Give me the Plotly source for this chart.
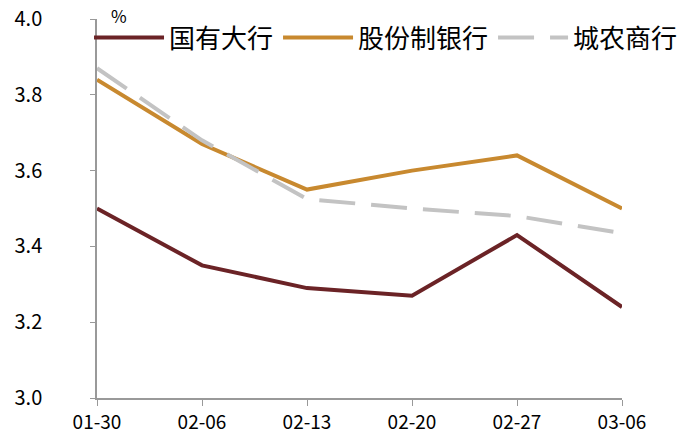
import plotly.graph_objects as go

dates = ["01-30", "02-06", "02-13", "02-20", "02-27", "03-06"]
state_banks = [3.50, 3.35, 3.29, 3.27, 3.43, 3.24]
joint_stock = [3.84, 3.67, 3.55, 3.60, 3.64, 3.50]
city_rural = [3.87, 3.68, 3.525, 3.50, 3.48, 3.435]
names = ["国有大行", "股份制银行", "城农商行"]
y_ticks = [3.0, 3.2, 3.4, 3.6, 3.8, 4.0]

FONT = "Noto Sans CJK SC, SimHei, sans-serif"
xs = list(range(len(dates)))

fig = go.Figure()
fig.add_trace(go.Scatter(x=xs, y=state_banks, name=names[0], mode="lines",
                         line=dict(color="#6B2326", width=4)))
fig.add_trace(go.Scatter(x=xs, y=joint_stock, name=names[1], mode="lines",
                         line=dict(color="#C8892F", width=4)))
fig.add_trace(go.Scatter(x=xs, y=city_rural, name=names[2], mode="lines",
                         line=dict(color="#C3C3C3", width=4, dash="36px,16px")))

fig.update_layout(
    width=700, height=440,
    margin=dict(l=97, r=78, t=19, b=42, autoexpand=False),
    paper_bgcolor="white", plot_bgcolor="white",
    font=dict(family=FONT, color="#000000", size=18),
    showlegend=True,
    legend=dict(orientation="h", x=-0.0152, y=1.013, xanchor="left", yanchor="top",
                font=dict(size=26, family=FONT), bgcolor="rgba(0,0,0,0)",
                borderwidth=0, traceorder="normal", itemwidth=70,
                tracegroupgap=0),
    xaxis=dict(range=[0, 5], tickmode="array", tickvals=xs, ticktext=dates,
               showline=True, linecolor="#999999", linewidth=1.5,
               ticks="outside", ticklen=6, tickcolor="#999999",
               showgrid=False, zeroline=False,
               tickfont=dict(size=19, family=FONT)),
    yaxis=dict(range=[3.0, 4.0], tickmode="array", tickvals=y_ticks,
               ticktext=[f"{v:.1f}" for v in y_ticks],
               showline=True, linecolor="#999999", linewidth=1.5,
               ticks="outside", ticklen=5, tickcolor="#999999",
               showgrid=False, zeroline=False, ticklabelstandoff=44,
               tickfont=dict(size=20, family=FONT)),
    annotations=[dict(text="%", xref="paper", yref="paper", x=0.022, y=1.047,
                      xanchor="left", yanchor="top", showarrow=False,
                      font=dict(size=17, family=FONT))],
)

fig.write_html("out.html", config={"displayModeBar": False},
               post_script="document.body.style.margin='0px';")
